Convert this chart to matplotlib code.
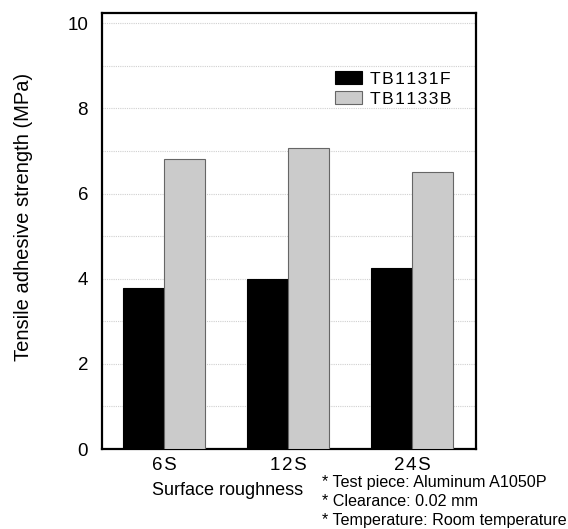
import matplotlib
matplotlib.use("Agg")
import matplotlib.pyplot as plt
import numpy as np

categories = ["6S", "12S", "24S"]
tb1131f = [3.78, 4.00, 4.25]
tb1133b = [6.80, 7.07, 6.50]
series_names = ["TB1131F", "TB1133B"]
yticks = [0, 2, 4, 6, 8, 10]
notes = ["* Test piece: Aluminum A1050P", "* Clearance: 0.02 mm", "* Temperature: Room temperature"]

plt.rcParams['font.family'] = ['Liberation Sans', 'DejaVu Sans']

def spaced(s):
    return "\u200a".join(s)

fig = plt.figure(figsize=(5.68, 5.29), dpi=100)
ax = fig.add_axes([102/568, 1 - 449/529, 374/568, 436/529])

x = np.arange(len(categories))
w = 0.33
ax.bar(x - w/2, tb1131f, w, color="black", edgecolor="black", linewidth=0.8,
       label=spaced(series_names[0]), zorder=3)
ax.bar(x + w/2, tb1133b, w, color="#cbcbcb", edgecolor="#666666", linewidth=0.8,
       label=spaced(series_names[1]), zorder=3)

ax.set_xlim(-0.5, 2.515)
ax.set_ylim(0, 10.24)
ax.set_yticks(yticks)
ax.set_yticks(np.arange(0, 11, 1), minor=True)
ax.yaxis.grid(True, which="both", color="#d0d0d0", linestyle=(0, (1, 1)), linewidth=0.8, zorder=0)
ax.tick_params(axis="both", which="both", length=0, labelsize=13.5)
ax.tick_params(axis="y", pad=10)
ax.tick_params(axis="x", pad=6)
ax.set_xticks(x)
ax.set_xticklabels([spaced(c) for c in categories])
for s in ax.spines.values():
    s.set_linewidth(1.6)
    s.set_color("black")

ax.set_ylabel("Tensile adhesive strength (MPa)", fontsize=14.5)
ax.yaxis.set_label_coords(-(102 - 33) / 374, (449 - 217) / 436)
ax.set_xlabel("Surface roughness", fontsize=13)
ax.xaxis.set_label_coords((228 - 102) / 374, -(482 - 449) / 436)

leg = ax.legend(loc="upper left", bbox_to_anchor=((335 - 102) / 374, 1 - (71 - 13) / 436),
                frameon=False, fontsize=12.5, handlelength=1.55, handleheight=0.8,
                handletextpad=0.46, labelspacing=0.26, borderaxespad=0, borderpad=0)

for i, t in enumerate(notes):
    fig.text(322/568, 1 - (483 + i*18.5)/529, t, fontsize=11.6, va="center", ha="left")

fig.savefig("out.png", dpi=100)
